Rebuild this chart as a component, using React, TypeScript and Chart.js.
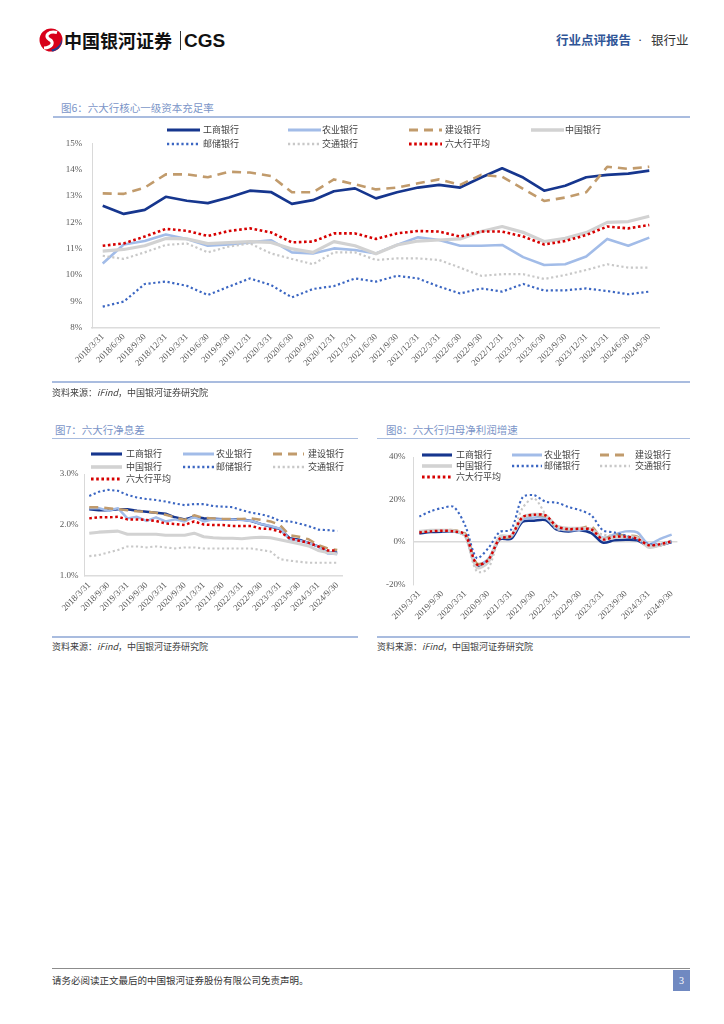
import React, { useEffect, useRef } from 'react';
import { Chart, registerables } from 'chart.js';
Chart.register(...registerables);

// ---------- tick labels ----------
const QUARTERS_A = ['2018/3/31','2018/6/30','2018/9/30','2018/12/31','2019/3/31','2019/6/30','2019/9/30','2019/12/31','2020/3/31','2020/6/30','2020/9/30','2020/12/31','2021/3/31','2021/6/30','2021/9/30','2021/12/31','2022/3/31','2022/6/30','2022/9/30','2022/12/31','2023/3/31','2023/6/30','2023/9/30','2023/12/31','2024/3/31','2024/6/30','2024/9/30'];
const QUARTERS_B = ['2019/3/31','2019/6/30','2019/9/30','2019/12/31','2020/3/31','2020/6/30','2020/9/30','2020/12/31','2021/3/31','2021/6/30','2021/9/30','2021/12/31','2022/3/31','2022/6/30','2022/9/30','2022/12/31','2023/3/31','2023/6/30','2023/9/30','2023/12/31','2024/3/31','2024/6/30','2024/9/30'];

// ---------- 图6 核心一级资本充足率 (%) ----------
const CET1_ICBC = [12.63,12.32,12.47,12.97,12.82,12.73,12.94,13.20,13.15,12.70,12.84,13.18,13.29,12.91,13.14,13.32,13.42,13.32,13.70,14.05,13.70,13.20,13.39,13.71,13.80,13.85,13.96];
const CET1_ABC = [10.44,11.16,11.29,11.54,11.37,11.11,11.16,11.24,11.32,10.86,10.82,11.01,10.95,10.82,11.14,11.43,11.33,11.11,11.11,11.14,10.68,10.38,10.41,10.70,11.37,11.11,11.42];
const CET1_CCB = [13.10,13.08,13.32,13.82,13.82,13.71,13.92,13.89,13.76,13.14,13.14,13.63,13.44,13.25,13.32,13.48,13.63,13.42,13.80,13.73,13.27,12.81,12.94,13.14,14.11,14.03,14.11];
const CET1_BOC = [10.91,10.97,11.11,11.39,11.37,11.19,11.23,11.27,11.24,10.99,10.86,11.27,11.11,10.81,11.14,11.29,11.33,11.37,11.65,11.84,11.62,11.27,11.39,11.61,12.00,12.03,12.23];
const CET1_PSBC = [8.80,8.99,9.66,9.75,9.59,9.24,9.56,9.87,9.62,9.15,9.47,9.58,9.87,9.75,9.97,9.87,9.56,9.30,9.49,9.37,9.66,9.41,9.42,9.49,9.39,9.27,9.37];
const CET1_BOCOM = [10.73,10.61,10.86,11.14,11.20,10.86,11.08,11.20,10.82,10.61,10.41,10.86,10.86,10.57,10.63,10.63,10.57,10.28,9.97,10.03,10.03,9.85,10.00,10.19,10.41,10.28,10.28];
const CET1_AVG = [11.11,11.20,11.46,11.75,11.68,11.48,11.67,11.77,11.62,11.24,11.27,11.58,11.58,11.37,11.58,11.67,11.65,11.46,11.65,11.65,11.46,11.16,11.29,11.52,11.84,11.77,11.90];
const CET1_TICKS = { min: 8, max: 15, step: 1 };

// ---------- 图7 净息差 (%) ----------
const NIM_ICBC = [2.31,2.29,2.29,2.31,2.31,2.28,2.26,2.24,2.22,2.15,2.11,2.16,2.13,2.12,2.11,2.11,2.11,2.08,2.02,1.97,1.92,1.74,1.71,1.65,1.58,1.46,1.46];
const NIM_ABC = [2.33,2.33,2.28,2.33,2.13,2.16,2.08,2.15,2.07,2.11,2.07,2.16,2.07,2.11,2.11,2.11,2.10,2.08,2.02,1.98,1.93,1.72,1.69,1.65,1.58,1.44,1.43];
const NIM_CCB = [2.35,2.35,2.33,2.31,2.29,2.27,2.26,2.24,2.20,2.15,2.10,2.19,2.14,2.13,2.12,2.12,2.12,2.13,2.10,2.07,2.00,1.80,1.77,1.72,1.61,1.54,1.51];
const NIM_BOC = [1.84,1.86,1.87,1.88,1.82,1.82,1.82,1.82,1.80,1.80,1.80,1.84,1.77,1.75,1.74,1.74,1.73,1.75,1.76,1.75,1.71,1.67,1.63,1.59,1.50,1.46,1.43];
const NIM_PSBC = [2.57,2.65,2.69,2.67,2.59,2.54,2.51,2.49,2.46,2.42,2.39,2.41,2.41,2.37,2.36,2.35,2.29,2.24,2.21,2.16,2.08,2.07,2.03,1.98,1.91,1.90,1.88];
const NIM_BOCOM = [1.39,1.41,1.46,1.51,1.58,1.58,1.56,1.58,1.56,1.54,1.56,1.56,1.54,1.54,1.54,1.54,1.54,1.54,1.51,1.48,1.33,1.30,1.28,1.26,1.26,1.26,1.26];
const NIM_AVG = [2.13,2.15,2.15,2.16,2.11,2.11,2.10,2.08,2.03,2.02,2.00,2.07,2.01,2.00,2.00,1.98,1.98,1.98,1.93,1.92,1.87,1.74,1.69,1.65,1.58,1.50,1.50];
const NIM_TICKS = { min: 1, max: 3, step: 1 };

// ---------- 图8 归母净利润增速 (%) ----------
const NP_ICBC = [4.0,4.7,4.9,4.9,3.0,-11.5,-9.0,1.2,1.5,9.5,10.0,10.3,5.8,5.0,5.6,4.2,-0.3,0.8,1.1,0.8,-2.0,-1.5,0.0];
const NP_ABC = [4.8,5.2,5.5,5.2,3.5,-10.5,-8.0,1.8,2.5,10.5,11.5,11.5,6.5,5.5,5.8,6.0,2.0,3.5,5.0,4.5,-1.0,1.5,3.5];
const NP_CCB = [5.0,5.2,5.5,5.5,4.0,-10.0,-8.5,1.5,2.5,11.5,12.5,12.0,7.0,6.0,6.5,7.2,1.5,3.5,3.0,2.5,-2.0,-1.5,0.0];
const NP_BOC = [5.0,5.5,5.5,5.3,3.0,-12.0,-9.5,2.5,3.0,11.5,13.0,12.5,7.5,6.5,6.5,6.0,1.5,2.0,2.5,2.0,-2.5,-1.5,0.5];
const NP_PSBC = [12.0,14.5,16.0,16.5,7.7,-7.5,-3.0,4.7,5.8,21.0,22.0,19.0,18.5,16.5,15.0,12.5,5.5,4.5,3.0,1.0,-1.0,-1.0,0.5];
const NP_BOCOM = [5.0,5.3,5.5,5.0,2.5,-13.8,-12.5,1.5,3.0,16.0,20.5,13.0,6.0,6.0,6.5,6.0,3.5,3.0,2.5,2.0,-1.5,-1.0,0.5];
const NP_AVG = [4.5,5.0,5.3,5.0,3.5,-10.5,-8.5,1.5,3.0,11.7,12.8,12.5,7.3,6.1,6.2,5.9,1.2,2.5,2.5,1.5,-1.5,-1.0,0.3];
const NP_TICKS = { min: -20, max: 40, step: 20 };

// ---------- series names & styles ----------
const KEYS = ['ICBC', 'ABC', 'CCB', 'BOC', 'PSBC', 'BOCOM', 'AVG'];
const NAMES: Record<string, string> = {
  ICBC: '工商银行', ABC: '农业银行', CCB: '建设银行', BOC: '中国银行',
  PSBC: '邮储银行', BOCOM: '交通银行', AVG: '六大行平均',
};
const STY: Record<string, { color: string; width: number; dash: number[] }> = {
  ICBC: { color: '#16368e', width: 2.7, dash: [] },
  ABC: { color: '#a2bce8', width: 2.6, dash: [] },
  CCB: { color: '#c19b6c', width: 2.6, dash: [9, 6] },
  BOC: { color: '#d2d2d2', width: 3.2, dash: [] },
  PSBC: { color: '#3b66c2', width: 2.2, dash: [2.2, 2.6] },
  BOCOM: { color: '#c8c8c8', width: 2.2, dash: [2.2, 2.6] },
  AVG: { color: '#d60000', width: 2.6, dash: [2.6, 2.6] },
};

const CJK = '"Noto Sans CJK SC", "Noto Sans", sans-serif';
const SERIF = '"Liberation Serif", "DejaVu Serif", serif';

type Box = { left: number; top: number; w: number; h: number };
type Plot = { left: number; right: number; top: number; bottom: number };

function LineChart(props: {
  box: Box; plot: Plot; labels: string[]; series: number[][];
  ticks: { min: number; max: number; step: number };
  fmt: (v: number) => string; tension: number; every: number; zero: boolean; yPad: number;
  widthScale?: number;
}) {
  const ref = useRef<HTMLCanvasElement>(null);
  const { box, plot, labels, series, ticks, fmt, tension, every, zero, yPad } = props;
  const ws = props.widthScale ?? 1;
  useEffect(() => {
    const chart = new Chart(ref.current!, {
      type: 'line',
      data: {
        labels,
        datasets: series.map((d, i) => ({
          label: NAMES[KEYS[i]],
          data: d,
          borderColor: STY[KEYS[i]].color,
          borderWidth: STY[KEYS[i]].width * ws,
          borderDash: STY[KEYS[i]].dash,
          borderCapStyle: 'butt' as const,
          borderJoinStyle: 'round' as const,
          pointRadius: 0,
          pointHoverRadius: 0,
          tension,
          fill: false,
          order: -i,
        })),
      },
      options: {
        animation: false,
        responsive: false,
        events: [],
        layout: {
          padding: {
            top: plot.top - box.top,
            right: box.left + box.w - plot.right,
            left: 0,
            bottom: 0,
          },
        },
        plugins: { legend: { display: false }, tooltip: { enabled: false } },
        scales: {
          x: {
            type: 'category',
            offset: true,
            grid: { display: false, drawTicks: false },
            border: { display: !zero, color: '#dcdcdc', width: 1.6 },
            ticks: {
              autoSkip: false,
              maxRotation: 45,
              minRotation: 45,
              padding: 4,
              color: '#595959',
              font: { family: SERIF, size: 9 },
              callback: (_v: any, i: number) => (i % every === 0 ? labels[i] : ''),
            },
            afterFit: (s: any) => { s.height = box.top + box.h - plot.bottom; },
          },
          y: {
            min: ticks.min,
            max: ticks.max,
            ticks: {
              stepSize: ticks.step,
              padding: yPad,
              color: '#595959',
              font: { family: SERIF, size: 9 },
              callback: (v: any) => fmt(Number(v)),
            },
            grid: {
              display: zero,
              drawTicks: false,
              color: (c: any) => (c.tick && c.tick.value === 0 ? '#d9d9d9' : 'rgba(0,0,0,0)'),
              lineWidth: 1.4,
            },
            border: { display: true, color: '#d9d9d9', width: 1 },
            afterFit: (s: any) => { s.width = plot.left - box.left; },
          },
        },
      },
    });
    return () => chart.destroy();
  }, []);
  return (
    <canvas
      ref={ref}
      width={box.w}
      height={box.h}
      style={{ position: 'absolute', left: box.left, top: box.top, width: box.w, height: box.h }}
    />
  );
}

function Txt(p: { x: number; y: number; size: number; color?: string; bold?: boolean; family?: string; children: React.ReactNode }) {
  return (
    <div
      style={{
        position: 'absolute', left: p.x, top: p.y, transform: 'translateY(-50%)',
        fontSize: p.size, lineHeight: 1.15, color: p.color ?? '#333', whiteSpace: 'nowrap',
        fontWeight: p.bold ? 700 : 400, fontFamily: p.family ?? CJK,
      }}
    >
      {p.children}
    </div>
  );
}

function HLine(p: { x1: number; x2: number; y: number; color: string; w: number }) {
  return <div style={{ position: 'absolute', left: p.x1, top: p.y - p.w / 2, width: p.x2 - p.x1, height: p.w, background: p.color }} />;
}

function Legend(p: { cols: number[]; rows: number[]; len: number; textOff: number[]; size: number }) {
  const perRow = p.cols.length;
  return (
    <>
      {KEYS.map((k, i) => {
        const c = i % perRow;
        const r = Math.floor(i / perRow);
        const x = p.cols[c];
        const y = p.rows[r];
        const s = STY[k];
        return (
          <React.Fragment key={k}>
            <svg style={{ position: 'absolute', left: x, top: y - 5 }} width={p.len} height={10}>
              <line x1={0} y1={5} x2={p.len} y2={5} stroke={s.color} strokeWidth={s.width + 0.4}
                strokeDasharray={s.dash.length ? s.dash.join(' ') : undefined} />
            </svg>
            <Txt x={x + p.textOff[c]} y={y} size={p.size} color="#404040">{NAMES[k]}</Txt>
          </React.Fragment>
        );
      })}
    </>
  );
}

const SOURCE = (
  <>资料来源：<span style={{ fontStyle: 'italic' }}>iFind</span>，中国银河证券研究院</>
);

export default function App() {
  const TITLE_C = '#7b95c8';
  const RULE_C = '#a9bcdf';
  return (
    <div style={{ position: 'absolute', left: 0, top: 0, width: 724, height: 1024, background: '#fff', overflow: 'hidden', fontFamily: CJK }}>
      {/* header */}
      <svg style={{ position: 'absolute', left: 39, top: 28 }} width={24} height={24} viewBox="0 0 24 24">
        <circle cx={12} cy={12} r={11.5} fill="#d8001a" />
        <path d="M18 4.5 C 10 2.5, 4.5 8, 10.5 11.5 C 15.5 14, 13.5 19.5, 5 20" stroke="#fff" strokeWidth={3.2} fill="none" />
        <path d="M13 23.5 C 19.5 22.5, 23.5 17, 23 10.5 C 21.5 17, 18 20.5, 12.5 21.5 Z" fill="#1c3e93" />
      </svg>
      <Txt x={64} y={40} size={18} bold color="#111">中国银河证券</Txt>
      <div style={{ position: 'absolute', left: 180, top: 31, width: 1.3, height: 19, background: '#333' }} />
      <Txt x={184} y={40.5} size={19} bold color="#111" family='"Liberation Sans", Arial, sans-serif'>CGS</Txt>
      <Txt x={556} y={40} size={12.5} bold color="#2f5597">行业点评报告</Txt>
      <Txt x={638} y={40} size={12.5} color="#333" family={SERIF}>·</Txt>
      <Txt x={651} y={40} size={12.5} color="#333">银行业</Txt>

      {/* figure 6 */}
      <Txt x={61} y={108} size={10.5} color={TITLE_C}>图6：六大行核心一级资本充足率</Txt>
      <HLine x1={53} x2={690} y={117} color={RULE_C} w={1.5} />
      <LineChart
        box={{ left: 50, top: 126, w: 620, h: 257 }}
        plot={{ left: 92.2, right: 659.8, top: 143.3, bottom: 327.7 }}
        labels={QUARTERS_A}
        series={[CET1_ICBC, CET1_ABC, CET1_CCB, CET1_BOC, CET1_PSBC, CET1_BOCOM, CET1_AVG]}
        ticks={CET1_TICKS}
        fmt={(v) => `${v}%`}
        tension={0}
        every={1}
        zero={false}
        yPad={10}
      />
      <Legend cols={[167, 288, 409, 531]} rows={[130, 144]} len={33} textOff={[36, 34, 36, 34]} size={9} />
      <HLine x1={52} x2={690} y={382} color={RULE_C} w={2} />
      <Txt x={52} y={393} size={9} color="#404040">{SOURCE}</Txt>

      {/* figure 7 */}
      <Txt x={55} y={430} size={10.5} color={TITLE_C}>图7：六大行净息差</Txt>
      <HLine x1={52} x2={358} y={438.5} color={RULE_C} w={1.5} />
      <LineChart
        box={{ left: 44, top: 445, w: 312, h: 186 }}
        plot={{ left: 84.5, right: 342, top: 474, bottom: 576 }}
        labels={QUARTERS_A}
        series={[NIM_ICBC, NIM_ABC, NIM_CCB, NIM_BOC, NIM_PSBC, NIM_BOCOM, NIM_AVG]}
        ticks={NIM_TICKS}
        fmt={(v) => `${v.toFixed(1)}%`}
        tension={0}
        every={2}
        zero={false}
        yPad={6}
        widthScale={0.95}
      />
      <Legend cols={[91, 183, 273]} rows={[454, 466.5, 479]} len={31} textOff={[35, 33, 35]} size={9} />
      <HLine x1={52} x2={358} y={637} color={RULE_C} w={1.5} />
      <Txt x={52} y={647} size={9} color="#404040">{SOURCE}</Txt>

      {/* figure 8 */}
      <Txt x={386} y={430} size={10.5} color={TITLE_C}>图8：六大行归母净利润增速</Txt>
      <HLine x1={377} x2={690} y={438.5} color={RULE_C} w={1.5} />
      <LineChart
        box={{ left: 368, top: 443, w: 322, h: 190 }}
        plot={{ left: 413.6, right: 677.4, top: 457, bottom: 584.5 }}
        labels={QUARTERS_B}
        series={[NP_ICBC, NP_ABC, NP_CCB, NP_BOC, NP_PSBC, NP_BOCOM, NP_AVG]}
        ticks={NP_TICKS}
        fmt={(v) => `${v}%`}
        tension={0.3}
        every={2}
        zero={true}
        yPad={8}
        widthScale={0.95}
      />
      <Legend cols={[422, 512, 600]} rows={[454.5, 466, 477]} len={30} textOff={[34, 32, 35]} size={9} />
      <HLine x1={377} x2={690} y={637} color={RULE_C} w={1.5} />
      <Txt x={377} y={647} size={9} color="#404040">{SOURCE}</Txt>

      {/* footer */}
      <HLine x1={52} x2={690} y={968.5} color="#8c8c8c" w={1} />
      <Txt x={52} y={980} size={9.5} color="#333">请务必阅读正文最后的中国银河证券股份有限公司免责声明。</Txt>
      <div style={{ position: 'absolute', left: 673, top: 970, width: 17, height: 21, background: '#7089c1', color: '#fff', fontFamily: SERIF, fontSize: 10, lineHeight: '21px', textAlign: 'center' }}>3</div>
    </div>
  );
}
